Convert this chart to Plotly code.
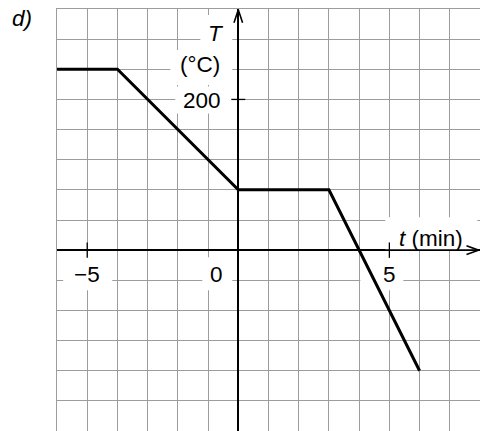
import plotly.graph_objects as go

# Temperature profile: time (min) vs temperature (°C)
time_min = [-6, -4, 0, 3, 6]
temp_c = [240, 240, 80, 80, -160]

# Axis ranges and grid steps
t_range = [-6, 8]
T_range = [-240, 320]
t_step = 1
T_step = 40

# Labelled ticks
x_tick_vals = [-5, 0, 5]
x_tick_text = ["\u22125", "0", "5"]
y_tick_vals = [200]
y_tick_text = ["200"]

FONT = "Liberation Sans, Arial, Helvetica, sans-serif"
GRID = "#9c9c9c"

fig = go.Figure()

fig.add_trace(go.Scatter(
    x=time_min, y=temp_c, mode="lines",
    line=dict(color="black", width=3),
    hoverinfo="skip", showlegend=False,
))

# small tick marks crossing the axes
fig.add_trace(go.Scatter(
    x=[v for v in x_tick_vals if v != 0], y=[0, 0], mode="markers",
    marker=dict(symbol="line-ns", size=11, line=dict(color="black", width=1.3)),
    hoverinfo="skip", showlegend=False,
))
fig.add_trace(go.Scatter(
    x=[0] * len(y_tick_vals), y=y_tick_vals, mode="markers",
    marker=dict(symbol="line-ew", size=10, line=dict(color="black", width=1.3)),
    hoverinfo="skip", showlegend=False,
))

# data units per pixel, for the arrowheads
px_x = (t_range[1] - t_range[0]) / 423.0
px_y = (T_range[1] - T_range[0]) / 422.0

# arrowhead on the t axis
tip_x = t_range[1] - 1.5 * px_x
fig.add_shape(type="path",
              path=f"M {tip_x - 12 * px_x},{4.3 * px_y} L {tip_x},0 L {tip_x - 12 * px_x},{-4.3 * px_y}",
              line=dict(color="black", width=1.6), xref="x", yref="y", layer="above")
# arrowhead on the T axis
tip_y = T_range[1] - 0.8 * px_y
fig.add_shape(type="path",
              path=f"M {-4.3 * px_x},{tip_y - 13 * px_y} L 0,{tip_y} L {4.3 * px_x},{tip_y - 13 * px_y}",
              line=dict(color="black", width=1.6), xref="x", yref="y", layer="above")


def white_box(ax, ay, x0, x1, y0, y1):
    """White patch behind a label, sized in pixels around a data anchor."""
    fig.add_shape(type="rect", xref="x", yref="y",
                  xsizemode="pixel", ysizemode="pixel", xanchor=ax, yanchor=ay,
                  x0=x0, x1=x1, y0=y0, y1=y1,
                  fillcolor="white", line=dict(width=0), layer="between")


lab_font = dict(family=FONT, size=22.5, color="black")

# x tick labels
x_shift = {-5: 0, 0: -22, 5: 0}
x_box = {-5: (-24, 25), 0: (-36, -6), 5: (-29, 14)}
for v, txt in zip(x_tick_vals, x_tick_text):
    bx0, bx1 = x_box[v]
    white_box(v, 0, bx0, bx1, -40, -7)
    fig.add_annotation(x=v, y=0, text=txt, showarrow=False, font=lab_font,
                       xshift=x_shift[v], yshift=-24)

# y tick labels
for v, txt in zip(y_tick_vals, y_tick_text):
    white_box(0, v, -63, -6, -14, 13)
    fig.add_annotation(x=0, y=v, text=txt, showarrow=False, font=lab_font,
                       xshift=-36, yshift=-1.5)

# axis titles
white_box(0, T_range[1], -38, -6, -41, -6)
fig.add_annotation(x=0, y=T_range[1], text="<i>T</i>", showarrow=False, font=lab_font,
                   xshift=-22, yshift=-24)
white_box(0, T_range[1], -68, -6, -76, -41)
fig.add_annotation(x=0, y=T_range[1], text="(°C)", showarrow=False, font=lab_font,
                   xshift=-38, yshift=-55)
white_box(0, 0, 147, 239, 1, 33)
fig.add_annotation(x=0, y=0, text="<i>t</i> (min)", showarrow=False, font=lab_font,
                   xshift=193, yshift=11.5)

# panel label
fig.add_annotation(xref="paper", yref="paper", x=(22 - 57) / 423, y=1 - (18 - 9) / 422,
                   text="<i>d)</i>", showarrow=False, font=lab_font,
                   xanchor="center", yanchor="middle")

fig.update_xaxes(range=t_range, dtick=t_step, tick0=0, showgrid=True, gridcolor=GRID, gridwidth=1,
                 zeroline=True, zerolinecolor="black", zerolinewidth=1.7,
                 showticklabels=False, ticks="", fixedrange=True,
                 showline=True, mirror=True, linecolor=GRID, linewidth=1)
fig.update_yaxes(range=T_range, dtick=T_step, tick0=0, showgrid=True, gridcolor=GRID, gridwidth=1,
                 zeroline=True, zerolinecolor="black", zerolinewidth=1.7,
                 showticklabels=False, ticks="", fixedrange=True,
                 showline=True, mirror=True, linecolor=GRID, linewidth=1)

fig.update_layout(
    width=480, height=431,
    margin=dict(l=57, r=0, t=9, b=0),
    paper_bgcolor="white", plot_bgcolor="white",
    showlegend=False,
)

fig.write_html("out.html", config={"displayModeBar": False})
